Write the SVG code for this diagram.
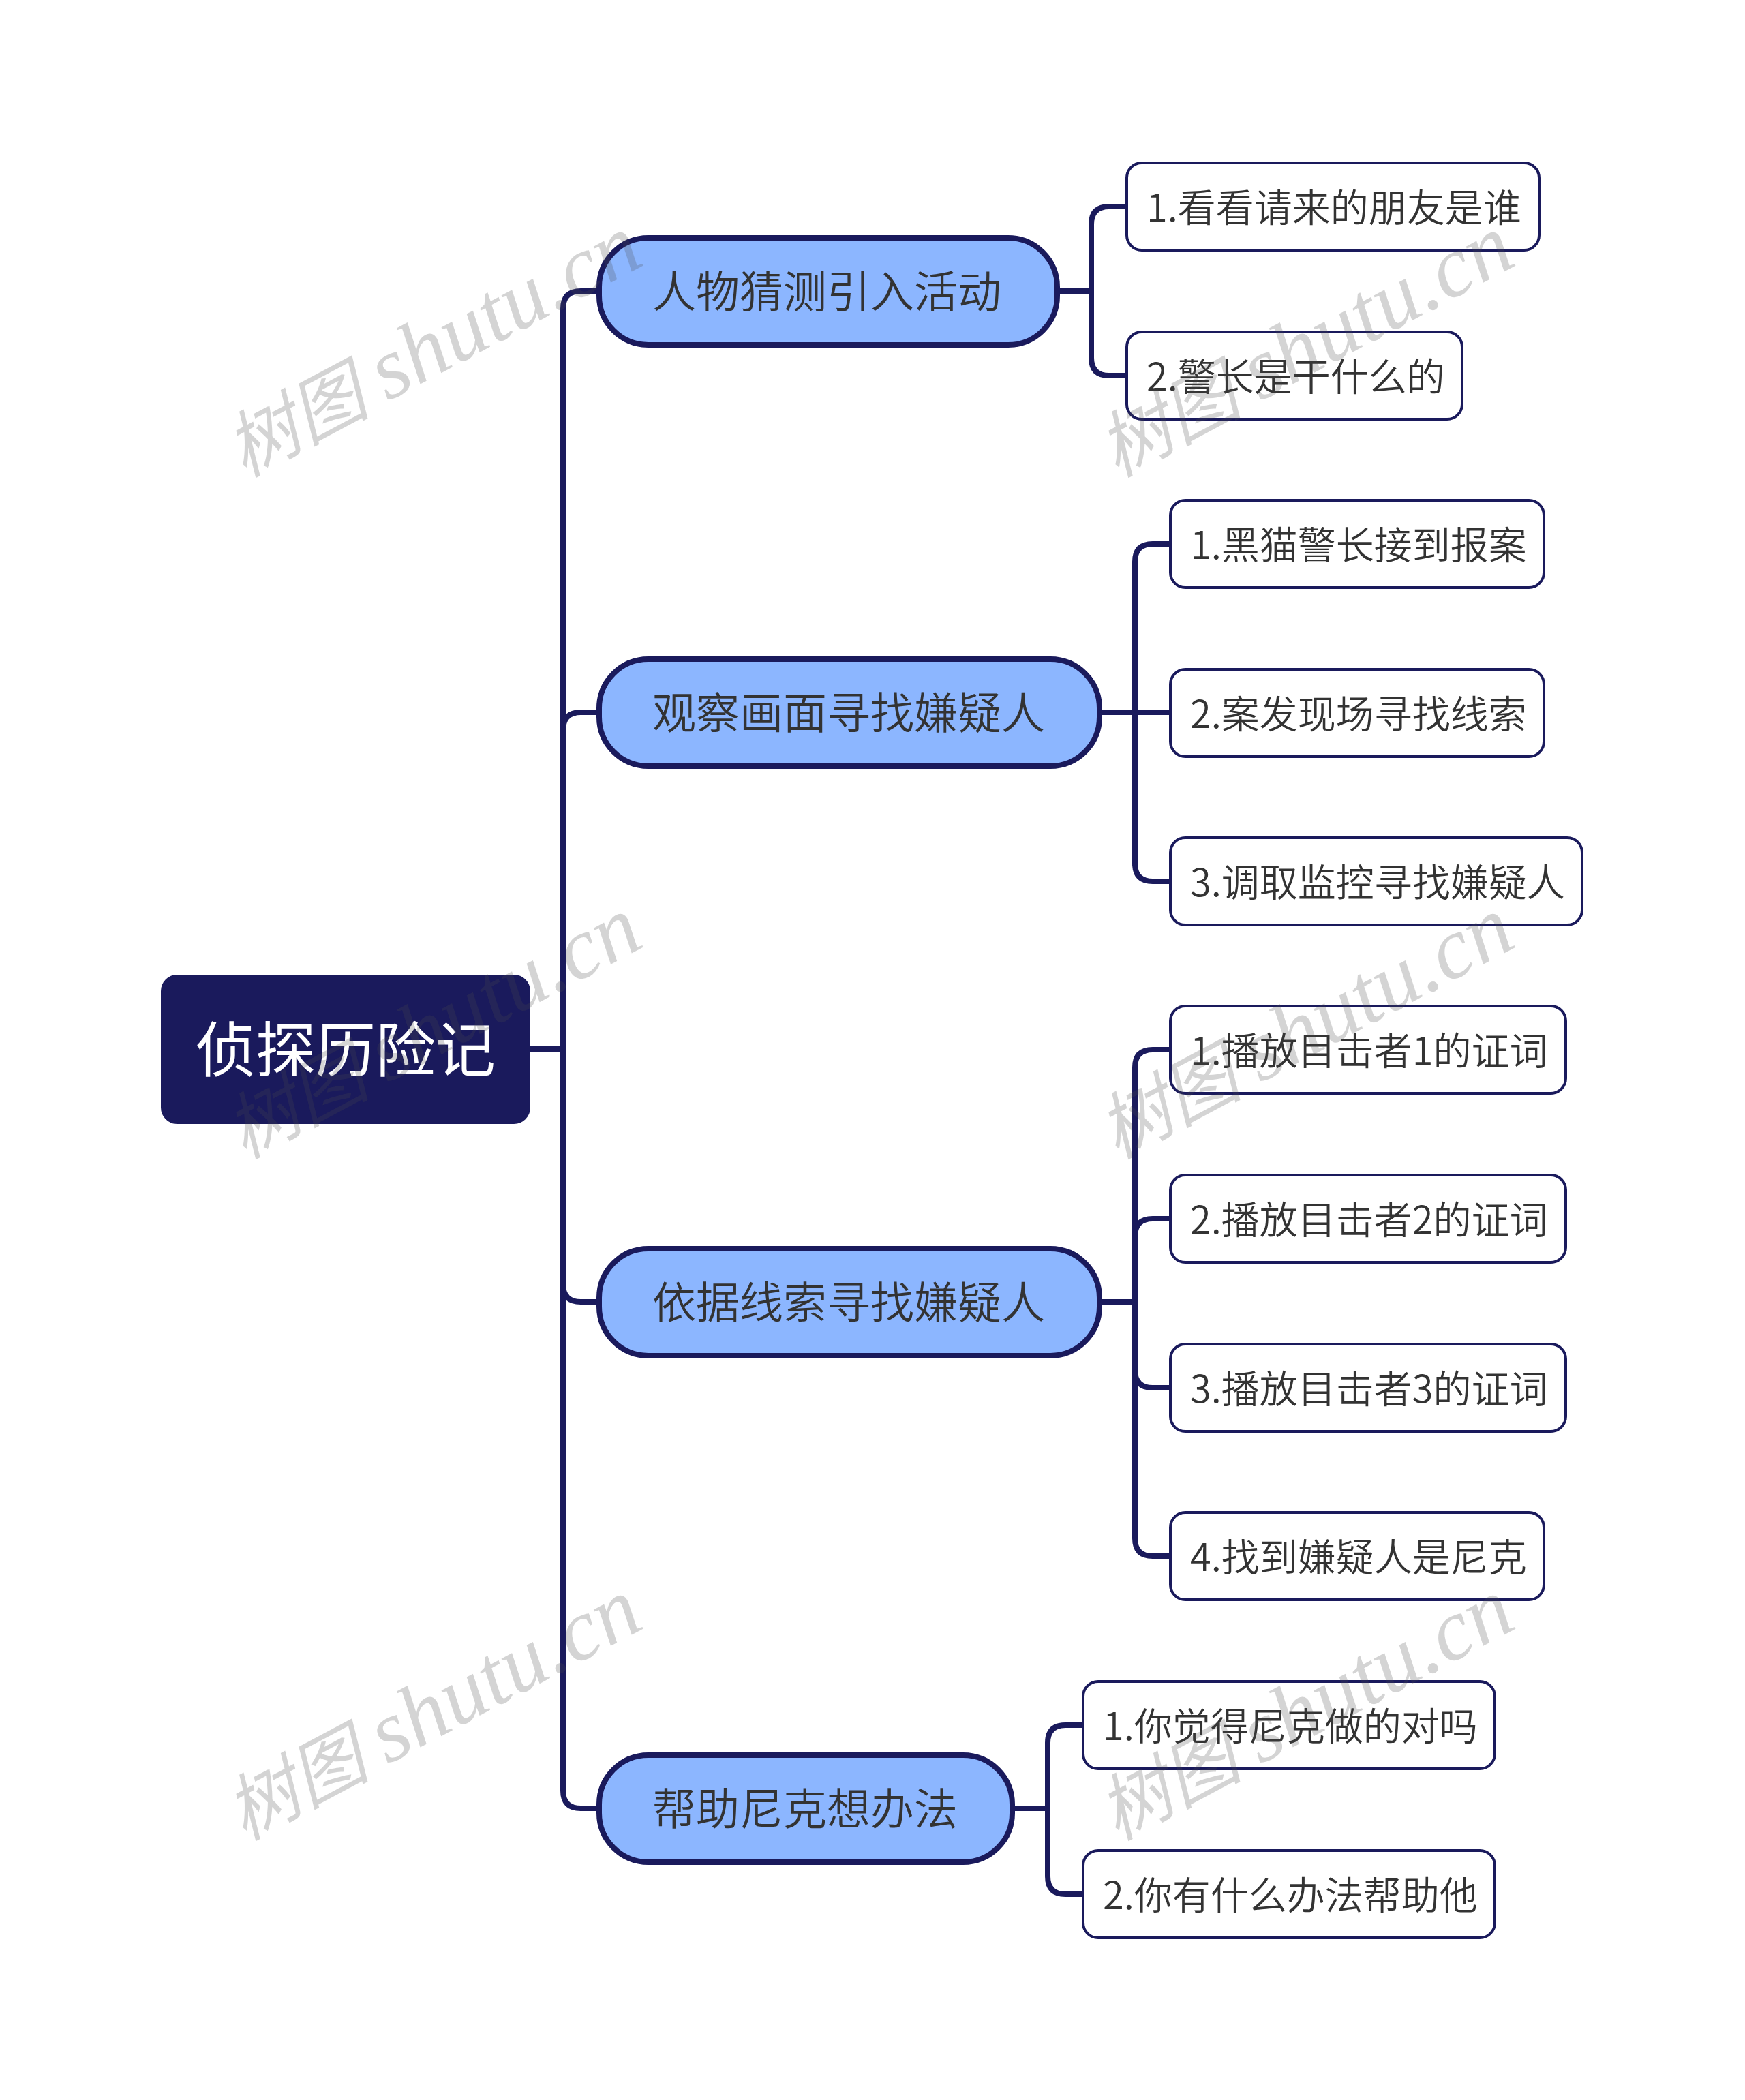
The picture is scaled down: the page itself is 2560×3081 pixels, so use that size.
<svg xmlns="http://www.w3.org/2000/svg" width="2560" height="3081" viewBox="0 0 2560 3081">
<defs><style>
text{font-family:"Noto Sans CJK SC","Noto Sans",sans-serif;font-weight:350}
.c{fill:none;stroke:#1a1a5c;stroke-width:8}
.root{fill:#1a1a5c}
.rt{fill:#fff;font-size:88px;font-weight:400}
.pill{fill:#8cb6ff;stroke:#1a1a5c;stroke-width:8}
.pt{fill:#333;font-size:64px}
.leaf{fill:#fff;stroke:#1a1a5c;stroke-width:4}
.lt{fill:#333;font-size:56px}
.w{fill:#4c4c4c;fill-opacity:.24;font-size:106px;font-style:italic;font-weight:400;font-family:"Liberation Serif","Noto Sans CJK SC",serif}
.w tspan{font-size:128px}
</style></defs>
<rect width="2560" height="3081" fill="#fff"/>
<g id="connectors" class="c">
<path d="M778 1539H826"/>
<path d="M875 427H852Q826 427 826 453V2627Q826 2653 852 2653H875"/>
<path d="M826 1071Q826 1045 852 1045H875"/>
<path d="M826 1884Q826 1910 852 1910H875"/>
<path d="M1552 427H1601"/>
<path d="M1653 303H1627Q1601 303 1601 329V525Q1601 551 1627 551H1653"/>
<path d="M1613 1045H1717"/>
<path d="M1717 798H1691Q1665 798 1665 824V1267Q1665 1293 1691 1293H1717"/>
<path d="M1613 1910H1665"/>
<path d="M1717 1540H1691Q1665 1540 1665 1566V2257Q1665 2283 1691 2283H1717"/>
<path d="M1717 1788H1691Q1665 1788 1665 1814"/>
<path d="M1717 2036H1691Q1665 2036 1665 2010"/>
<path d="M1484 2653H1537"/>
<path d="M1589 2531H1563Q1537 2531 1537 2557V2753Q1537 2779 1563 2779H1589"/>
</g>
<g id="root"><rect class="root" x="236" y="1430" width="542" height="219" rx="24"/><text class="rt" x="287" y="1572">侦探历险记</text></g>
<g id="p1"><rect class="pill" x="879" y="349" width="672" height="157" rx="72"/><text class="pt" x="957" y="451">人物猜测引入活动</text></g>
<g id="p2"><rect class="pill" x="879" y="967" width="734" height="157" rx="72"/><text class="pt" x="957" y="1069">观察画面寻找嫌疑人</text></g>
<g id="p3"><rect class="pill" x="879" y="1832" width="734" height="157" rx="72"/><text class="pt" x="957" y="1934">依据线索寻找嫌疑人</text></g>
<g id="p4"><rect class="pill" x="879" y="2575" width="606" height="157" rx="72"/><text class="pt" x="957" y="2677">帮助尼克想办法</text></g>
<g id="l11"><rect class="leaf" x="1653" y="239" width="605" height="128" rx="22"/><text class="lt" x="1682" y="325">1.看看请来的朋友是谁</text></g>
<g id="l12"><rect class="leaf" x="1653" y="487" width="492" height="128" rx="22"/><text class="lt" x="1682" y="573">2.警长是干什么的</text></g>
<g id="l21"><rect class="leaf" x="1717" y="734" width="548" height="128" rx="22"/><text class="lt" x="1746" y="820">1.黑猫警长接到报案</text></g>
<g id="l22"><rect class="leaf" x="1717" y="982" width="548" height="128" rx="22"/><text class="lt" x="1746" y="1068">2.案发现场寻找线索</text></g>
<g id="l23"><rect class="leaf" x="1717" y="1229" width="604" height="128" rx="22"/><text class="lt" x="1746" y="1315">3.调取监控寻找嫌疑人</text></g>
<g id="l31"><rect class="leaf" x="1717" y="1476" width="580" height="128" rx="22"/><text class="lt" x="1746" y="1562">1.播放目击者1的证词</text></g>
<g id="l32"><rect class="leaf" x="1717" y="1724" width="580" height="128" rx="22"/><text class="lt" x="1746" y="1810">2.播放目击者2的证词</text></g>
<g id="l33"><rect class="leaf" x="1717" y="1972" width="580" height="128" rx="22"/><text class="lt" x="1746" y="2058">3.播放目击者3的证词</text></g>
<g id="l34"><rect class="leaf" x="1717" y="2219" width="548" height="128" rx="22"/><text class="lt" x="1746" y="2305">4.找到嫌疑人是尼克</text></g>
<g id="l41"><rect class="leaf" x="1589" y="2467" width="604" height="128" rx="22"/><text class="lt" x="1618" y="2553">1.你觉得尼克做的对吗</text></g>
<g id="l42"><rect class="leaf" x="1589" y="2715" width="604" height="128" rx="22"/><text class="lt" x="1618" y="2801">2.你有什么办法帮助他</text></g>
<g id="watermarks">
<text class="w" transform="translate(358 701) rotate(-28)">树图 <tspan>shutu.cn</tspan></text>
<text class="w" transform="translate(1638 701) rotate(-28)">树图 <tspan>shutu.cn</tspan></text>
<text class="w" transform="translate(358 1701) rotate(-28)">树图 <tspan>shutu.cn</tspan></text>
<text class="w" transform="translate(1638 1701) rotate(-28)">树图 <tspan>shutu.cn</tspan></text>
<text class="w" transform="translate(358 2701) rotate(-28)">树图 <tspan>shutu.cn</tspan></text>
<text class="w" transform="translate(1638 2701) rotate(-28)">树图 <tspan>shutu.cn</tspan></text>
</g>
</svg>
